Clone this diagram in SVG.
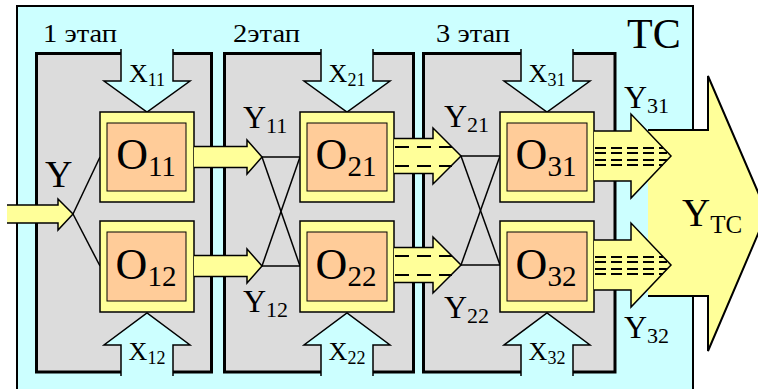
<svg xmlns="http://www.w3.org/2000/svg" width="758" height="389" viewBox="0 0 758 389" font-family="'Liberation Serif', 'DejaVu Serif', serif">
<style>
text{font-family:'Liberation Serif','DejaVu Serif',serif;fill:#000}
.stage{fill:#dcdcdc;stroke:#000;stroke-width:3}
.xa{fill:#ccffff;stroke:#000;stroke-width:1.5;stroke-linejoin:miter}
.ob{fill:#ffff99;stroke:#000;stroke-width:1.5}
.ib{fill:#ffcc99;stroke:#000;stroke-width:1}
.ya{fill:#ffff99;stroke:#000;stroke-width:1.5;stroke-linejoin:miter}
.cn{stroke:#000;stroke-width:1.5;fill:none}
.d2{stroke:#000;stroke-width:2;stroke-dasharray:14 8}
.d3{stroke:#000;stroke-width:2;stroke-dasharray:11 5}
.st{font-size:26px}
.xl{font-size:26px}
.xs{font-size:18px}
.ol{font-size:44px}
.os{font-size:29px}
.yl{font-size:32px}
.ys{font-size:22px}
</style>
<g id="tc">
<rect x="17" y="6" width="676" height="395" fill="#ccffff" stroke="#000" stroke-width="2"/>
<text x="627" y="48" style="font-size:42px">TC</text>
</g>
<g id="stage1">
<rect class="stage" x="36.5" y="53.5" width="175" height="318.5"/>
<text x="43" y="42" class="st" textLength="74" lengthAdjust="spacingAndGlyphs">1 этап</text>
</g>
<g id="stage2">
<rect class="stage" x="224.5" y="53.5" width="189" height="318.5"/>
<text x="233" y="42" class="st" textLength="67" lengthAdjust="spacingAndGlyphs">2этап</text>
</g>
<g id="stage3">
<rect class="stage" x="423.5" y="53.5" width="191.5" height="318.5"/>
<text x="436" y="42" class="st" textLength="74" lengthAdjust="spacingAndGlyphs">3 этап</text>
</g>
<g id="x11"><path class="xa" d="M121,49 V81 H104 L147,112 L190,81 H173 V49"/><text x="147" y="82" text-anchor="middle" class="xl">X<tspan class="xs" dy="4">11</tspan></text></g>
<g id="x12"><path class="xa" d="M121,376 V345 H104 L147,313 L190,345 H173 V376"/><text x="147" y="360" text-anchor="middle" class="xl">X<tspan class="xs" dy="4">12</tspan></text></g>
<g id="x21"><path class="xa" d="M321,49 V81 H304 L347,112 L390,81 H373 V49"/><text x="347" y="82" text-anchor="middle" class="xl">X<tspan class="xs" dy="4">21</tspan></text></g>
<g id="x22"><path class="xa" d="M321,376 V345 H304 L347,313 L390,345 H373 V376"/><text x="347" y="360" text-anchor="middle" class="xl">X<tspan class="xs" dy="4">22</tspan></text></g>
<g id="x31"><path class="xa" d="M521,49 V81 H504 L547,112 L590,81 H573 V49"/><text x="547" y="82" text-anchor="middle" class="xl">X<tspan class="xs" dy="4">31</tspan></text></g>
<g id="x32"><path class="xa" d="M521,376 V345 H504 L547,313 L590,345 H573 V376"/><text x="547" y="360" text-anchor="middle" class="xl">X<tspan class="xs" dy="4">32</tspan></text></g>
<g id="connectors">
<line class="cn" x1="73" y1="214" x2="100" y2="157"/>
<line class="cn" x1="73" y1="214" x2="100" y2="266"/>
<line class="cn" x1="262" y1="157" x2="300" y2="157"/>
<line class="cn" x1="262" y1="157" x2="300" y2="266"/>
<line class="cn" x1="262" y1="266" x2="300" y2="266"/>
<line class="cn" x1="262" y1="266" x2="300" y2="157"/>
<line class="cn" x1="461" y1="156" x2="500" y2="156"/>
<line class="cn" x1="461" y1="156" x2="500" y2="265"/>
<line class="cn" x1="461" y1="265" x2="500" y2="265"/>
<line class="cn" x1="461" y1="265" x2="500" y2="156"/>
</g>
<g id="input">
<path class="ya" d="M7,205 H58 V199 L73,214 L58,230 V223 H7"/>
<text x="45" y="187" style="font-size:38px">Y</text>
</g>
<g id="o11"><rect class="ob" x="100" y="112" width="94" height="90"/><rect class="ib" x="107" y="123" width="79" height="68"/><text x="146" y="169" text-anchor="middle" class="ol">O<tspan class="os" dy="7">11</tspan></text></g>
<g id="o12"><rect class="ob" x="100" y="221" width="94" height="91"/><rect class="ib" x="107" y="232" width="79" height="69"/><text x="146" y="279" text-anchor="middle" class="ol">O<tspan class="os" dy="7">12</tspan></text></g>
<g id="o21"><rect class="ob" x="300" y="112" width="94" height="90"/><rect class="ib" x="307" y="123" width="80" height="68"/><text x="346" y="169" text-anchor="middle" class="ol">O<tspan class="os" dy="7">21</tspan></text></g>
<g id="o22"><rect class="ob" x="300" y="221" width="94" height="91"/><rect class="ib" x="307" y="232" width="80" height="69"/><text x="346" y="279" text-anchor="middle" class="ol">O<tspan class="os" dy="7">22</tspan></text></g>
<g id="ytc">
<path fill="#ffff99" stroke="#000" stroke-width="2" stroke-linejoin="miter" d="M648,130 H708 V76 L767,213 L708,351 V296 H648"/>
<text x="682" y="226" style="font-size:39px">Y<tspan style="font-size:25px" dy="7">TC</tspan></text>
</g>
<g id="o31"><rect class="ob" x="500" y="112" width="94" height="90"/><rect class="ib" x="507" y="123" width="80" height="68"/><text x="546" y="169" text-anchor="middle" class="ol">O<tspan class="os" dy="7">31</tspan></text></g>
<g id="o32"><rect class="ob" x="500" y="221" width="94" height="91"/><rect class="ib" x="507" y="232" width="80" height="69"/><text x="546" y="279" text-anchor="middle" class="ol">O<tspan class="os" dy="7">32</tspan></text></g>
<g id="arrows">
<path class="ya" d="M194,146.5 H247 V140 L262,157 L247,174 V167.5 H194"/>
<path class="ya" d="M194,255.5 H247 V249 L262,266 L247,283 V276.5 H194"/>
<path class="ya" d="M394,138.5 H433 V128 L461,156 L433,184 V173.5 H394"/>
<line class="d2" x1="395" y1="147" x2="452" y2="147"/>
<line class="d2" x1="395" y1="166" x2="452" y2="166"/>
<path class="ya" d="M394,247.5 H433 V237 L461,265 L433,293 V282.5 H394"/>
<line class="d2" x1="395" y1="256" x2="452" y2="256"/>
<line class="d2" x1="395" y1="275" x2="452" y2="275"/>
<path class="ya" d="M594,131 H631 V114 L671,156 L631,198 V181 H594"/>
<line class="d3" x1="595" y1="148" x2="663" y2="148"/>
<line class="d3" x1="595" y1="153" x2="667" y2="153"/>
<line class="d3" x1="595" y1="160" x2="667" y2="160"/>
<line class="d3" x1="595" y1="165" x2="663" y2="165"/>
<path class="ya" d="M594,240 H631 V223 L671,265 L631,307 V290 H594"/>
<line class="d3" x1="595" y1="257" x2="663" y2="257"/>
<line class="d3" x1="595" y1="262" x2="667" y2="262"/>
<line class="d3" x1="595" y1="269" x2="667" y2="269"/>
<line class="d3" x1="595" y1="274" x2="663" y2="274"/>
</g>
<g id="labels">
<text x="243" y="128" class="yl">Y<tspan class="ys" dy="5">11</tspan></text>
<text x="243" y="312" class="yl">Y<tspan class="ys" dy="5">12</tspan></text>
<text x="444" y="127" class="yl">Y<tspan class="ys" dy="5">21</tspan></text>
<text x="444" y="318" class="yl">Y<tspan class="ys" dy="5">22</tspan></text>
<text x="624" y="108" class="yl">Y<tspan class="ys" dy="5">31</tspan></text>
<text x="624" y="338" class="yl">Y<tspan class="ys" dy="5">32</tspan></text>
</g>
</svg>
